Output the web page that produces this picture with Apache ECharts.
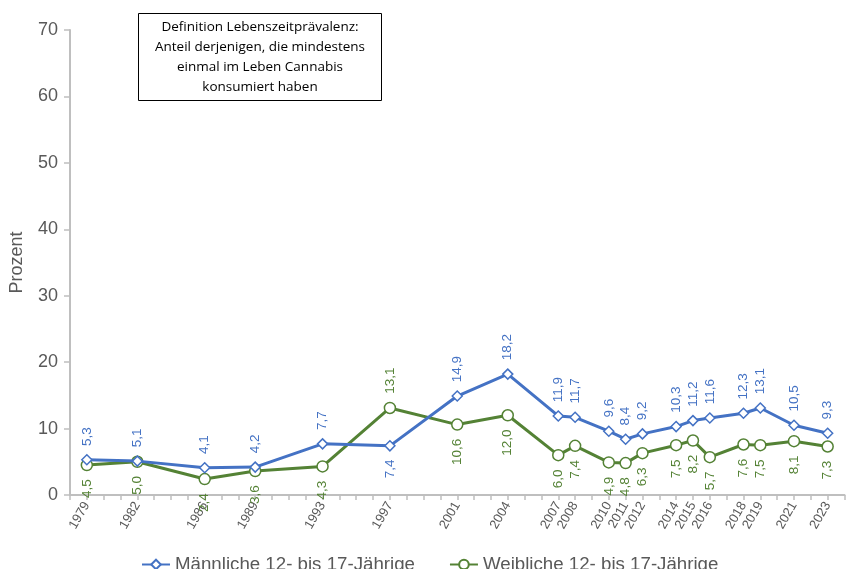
<!DOCTYPE html>
<html>
<head>
<meta charset="utf-8">
<script src="https://cdn.jsdelivr.net/npm/echarts@6/dist/echarts.min.js"></script>
<style>
  html, body { margin: 0; padding: 0; background: #fff; }
  #chart { width: 846px; height: 569px; }
</style>
</head>
<body>
<div id="chart"></div>
<script>
var years = [1979, 1982, 1986, 1989, 1993, 1997, 2001, 2004, 2007, 2008, 2010, 2011, 2012, 2014, 2015, 2016, 2018, 2019, 2021, 2023];
var maennlich = [5.3, 5.1, 4.1, 4.2, 7.7, 7.4, 14.9, 18.2, 11.9, 11.7, 9.6, 8.4, 9.2, 10.3, 11.2, 11.6, 12.3, 13.1, 10.5, 9.3];
var weiblich = [4.5, 5.0, 2.4, 3.6, 4.3, 13.1, 10.6, 12.0, 6.0, 7.4, 4.9, 4.8, 6.3, 7.5, 8.2, 5.7, 7.6, 7.5, 8.1, 7.3];
var namen = ['Männliche 12- bis 17-Jährige', 'Weibliche 12- bis 17-Jährige'];
// Jahre, bei denen das Label auf der anderen Seite steht
var blauUnten = [1997];
var gruenOben = [1997];

var blau = '#4472C4';
var gruen = '#548235';

function komma(v) { return v.toFixed(1).replace('.', ','); }

function punkte(werte, anders, normalPos) {
  return werte.map(function (v, i) {
    var p = { value: [years[i], v] };
    if (anders.indexOf(years[i]) >= 0) {
      var pos = normalPos === 'top' ? 'bottom' : 'top';
      p.label = { position: pos, align: pos === 'top' ? 'left' : 'right' };
    }
    return p;
  });
}

var chart = echarts.init(document.getElementById('chart'));
var option = {
  backgroundColor: '#fff',
  animation: false,
  grid: { left: 70, right: 1, top: 30, bottom: 74 },
  legend: {
    top: 550,
    left: 136,
    itemWidth: 28,
    itemHeight: 12,
    itemGap: 34,
    textStyle: { fontSize: 18.7, color: '#595959', fontFamily: 'Liberation Sans' },
    data: namen
  },
  xAxis: {
    type: 'value',
    min: 1978,
    max: 2024,
    interval: 1,
    splitLine: { show: false },
    axisLine: { lineStyle: { color: '#BFBFBF', width: 2 } },
    axisTick: { show: true, length: 5, lineStyle: { color: '#BFBFBF', width: 1.5 } },
    axisLabel: {
      rotate: 60,
      fontSize: 13,
      color: '#595959',
      fontFamily: 'Liberation Sans',
      margin: 8,
      showMinLabel: true,
      showMaxLabel: true,
      formatter: function (v) { return years.indexOf(v) >= 0 ? String(v) : ''; }
    }
  },
  yAxis: {
    type: 'value',
    min: 0,
    max: 70,
    interval: 10,
    name: 'Prozent',
    nameLocation: 'middle',
    nameGap: 44,
    nameRotate: 90,
    nameTextStyle: { fontSize: 18, color: '#595959', fontFamily: 'Liberation Sans' },
    splitLine: { show: false },
    axisLine: { show: true, lineStyle: { color: '#BFBFBF', width: 2 } },
    axisTick: { show: true, length: 6, lineStyle: { color: '#BFBFBF', width: 1.5 } },
    axisLabel: { fontSize: 18, color: '#595959', fontFamily: 'Liberation Sans', margin: 12 }
  },
  series: [
    {
      name: namen[0],
      type: 'line',
      data: punkte(maennlich, blauUnten, 'top'),
      symbol: 'diamond',
      symbolSize: 10,
      color: blau,
      itemStyle: { color: '#fff', borderColor: blau, borderWidth: 1.5 },
      lineStyle: { color: blau, width: 3 },
      label: {
        show: true,
        position: 'top',
        rotate: 90,
        align: 'left',
        verticalAlign: 'middle',
        distance: 8,
        fontSize: 13.5,
        color: blau,
        fontFamily: 'Liberation Sans',
        formatter: function (p) { return komma(p.value[1]); }
      },
      z: 3
    },
    {
      name: namen[1],
      type: 'line',
      data: punkte(weiblich, gruenOben, 'bottom'),
      symbol: 'circle',
      symbolSize: 11,
      color: gruen,
      itemStyle: { color: '#fff', borderColor: gruen, borderWidth: 1.5 },
      lineStyle: { color: gruen, width: 3 },
      label: {
        show: true,
        position: 'bottom',
        rotate: 90,
        align: 'right',
        verticalAlign: 'middle',
        distance: 8,
        fontSize: 13.5,
        color: gruen,
        fontFamily: 'Liberation Sans',
        formatter: function (p) { return komma(p.value[1]); }
      },
      z: 2
    }
  ],
  graphic: [
    {
      type: 'group',
      left: 138,
      top: 13,
      children: [
        {
          type: 'rect',
          shape: { x: 0, y: 0, width: 243, height: 87 },
          style: { fill: '#fff', stroke: '#000', lineWidth: 1 }
        },
        {
          type: 'text',
          x: 121.5,
          y: 44,
          style: {
            text: 'Definition Lebenszeitprävalenz:\nAnteil derjenigen, die mindestens\neinmal im Leben Cannabis\nkonsumiert haben',
            align: 'center',
            verticalAlign: 'middle',
            fontSize: 13.5,
            lineHeight: 20,
            fill: '#000',
            fontFamily: 'Open Sans'
          }
        }
      ]
    }
  ]
};
chart.setOption(option);
</script>
</body>
</html>
